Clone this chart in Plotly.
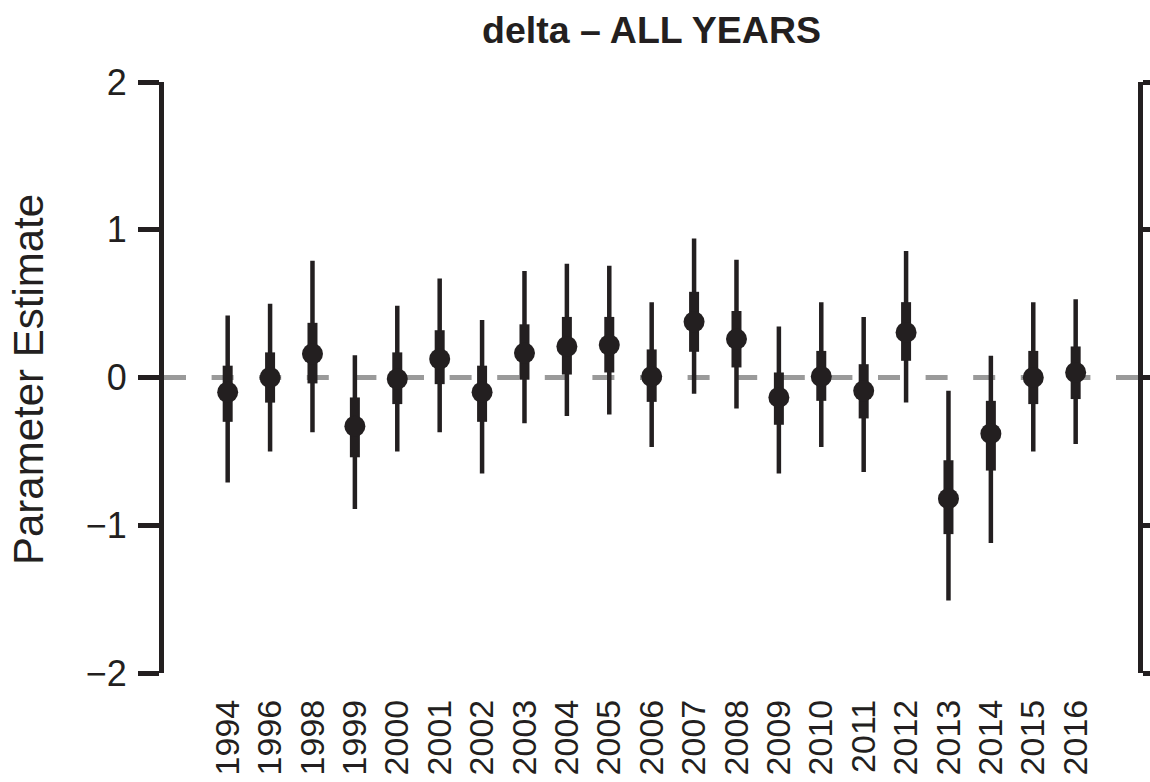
import plotly.graph_objects as go

# Yearly delta estimates with inner (thick) and outer (thin) intervals
years = ["1994", "1996", "1998", "1999", "2000", "2001", "2002", "2003", "2004", "2005", "2006",
         "2007", "2008", "2009", "2010", "2011", "2012", "2013", "2014", "2015", "2016"]
estimate = [-0.10, 0.00, 0.16, -0.33, -0.01, 0.125, -0.10, 0.165, 0.21, 0.22, 0.007,
            0.377, 0.26, -0.135, 0.007, -0.09, 0.305, -0.82, -0.38, 0.00, 0.034]
inner_lo = [-0.30, -0.17, -0.04, -0.54, -0.18, -0.045, -0.30, -0.015, 0.02, 0.034, -0.165,
            0.174, 0.068, -0.32, -0.158, -0.277, 0.113, -1.06, -0.63, -0.18, -0.146]
inner_hi = [0.08, 0.17, 0.37, -0.135, 0.17, 0.32, 0.08, 0.36, 0.41, 0.41, 0.19,
            0.58, 0.45, 0.034, 0.18, 0.09, 0.51, -0.56, -0.158, 0.18, 0.21]
outer_lo = [-0.71, -0.50, -0.37, -0.89, -0.50, -0.37, -0.65, -0.31, -0.26, -0.25, -0.47,
            -0.11, -0.21, -0.65, -0.47, -0.64, -0.17, -1.51, -1.12, -0.50, -0.45]
outer_hi = [0.42, 0.50, 0.79, 0.15, 0.485, 0.67, 0.39, 0.72, 0.77, 0.756, 0.51,
            0.94, 0.797, 0.345, 0.51, 0.41, 0.857, -0.09, 0.147, 0.51, 0.53]
y_ticks = [-2, -1, 0, 1, 2]

INK = "#231f20"
GREY = "#9a9a9a"
FONT = "Liberation Sans, Arial, Helvetica, sans-serif"

W, H = 1150, 782
ML, MR, MT, MB = 164, 12, 82, 109
PW, PH = W - ML - MR, H - MT - MB


def px_to_paper_x(px):
    return (px - ML) / PW


def px_to_paper_y(py):
    return (H - MB - py) / PH


def segments(lo, hi):
    xs, ys = [], []
    for yr, a, b in zip(years, lo, hi):
        xs += [yr, yr, None]
        ys += [a, b, None]
    return xs, ys


fig = go.Figure()

ox, oy = segments(outer_lo, outer_hi)
fig.add_trace(go.Scatter(x=ox, y=oy, mode="lines", line=dict(color=INK, width=4.5),
                         hoverinfo="skip", showlegend=False))
ix, iy = segments(inner_lo, inner_hi)
fig.add_trace(go.Scatter(x=ix, y=iy, mode="lines", line=dict(color=INK, width=10),
                         hoverinfo="skip", showlegend=False))
fig.add_trace(go.Scatter(x=years, y=estimate, mode="markers",
                         marker=dict(color=INK, size=21, line=dict(width=0)),
                         showlegend=False))
# carrier for the right-hand axis
fig.add_trace(go.Scatter(x=[years[0]], y=[0], yaxis="y2", mode="none",
                         hoverinfo="skip", showlegend=False))

# dashed reference line at zero
fig.add_shape(type="line", xref="paper", yref="y", x0=0, x1=px_to_paper_x(W + 5), y0=0, y1=0,
              line=dict(color=GREY, width=5, dash="22px,25.6px"), layer="below")

axis_common = dict(range=[-2, 2], tickvals=y_ticks, showline=True, linecolor=INK, linewidth=5,
                   ticks="outside", ticklen=21, tickwidth=5, tickcolor=INK,
                   showgrid=False, zeroline=False, fixedrange=True, automargin=False)

fig.update_layout(
    width=W, height=H, autosize=False,
    margin=dict(l=ML, r=MR, t=MT, b=MB, pad=0, autoexpand=False),
    paper_bgcolor="white", plot_bgcolor="white",
    font=dict(family=FONT, color=INK),
    xaxis=dict(type="category", categoryorder="array", categoryarray=years,
               range=[-1.502, 21.47], tickvals=years, ticktext=years, tickangle=-90,
               showline=False, ticks="", showgrid=False, zeroline=False, automargin=False,
               tickfont=dict(size=34, color=INK), ticklabelstandoff=19),
    yaxis=dict(**axis_common, tickfont=dict(size=36, color=INK), ticklabelstandoff=4),
    yaxis2=dict(**axis_common, overlaying="y", side="right", showticklabels=False),
    annotations=[
        dict(text="<b>delta \u2013 ALL YEARS</b>", xref="paper", yref="paper",
             x=0.5, y=px_to_paper_y(30), xanchor="center", yanchor="middle",
             showarrow=False, font=dict(size=37.5, color=INK, family=FONT)),
        dict(text="Parameter Estimate", xref="paper", yref="paper",
             x=px_to_paper_x(28), y=px_to_paper_y(380), xanchor="center", yanchor="middle",
             textangle=-90, showarrow=False, font=dict(size=42, color=INK, family=FONT)),
    ],
)

fig.write_html("out.html")
